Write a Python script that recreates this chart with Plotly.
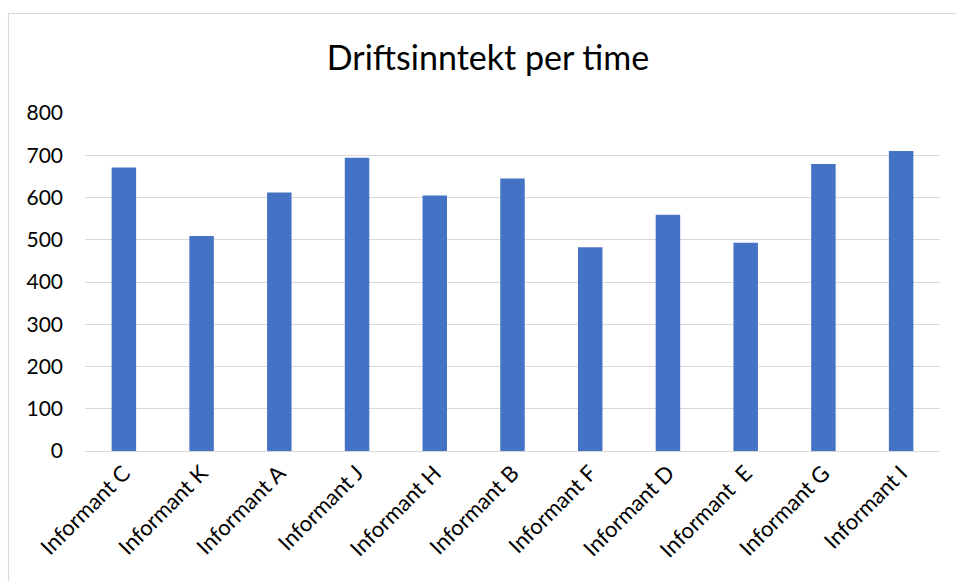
import plotly.graph_objects as go

# Operating income per hour for each informant
informants = ["Informant C", "Informant K", "Informant A", "Informant J", "Informant H",
              "Informant B", "Informant F", "Informant D", "Informant  E", "Informant G",
              "Informant I"]
income = [671, 509, 612, 694, 605, 645, 482, 559, 493, 679, 710]
y_ticks = [0, 100, 200, 300, 400, 500, 600, 700, 800]

W, H = 956, 581
ML, MR, MT, MB = 85, 16, 113, 130
pw, ph = W - ML - MR, H - MT - MB

fig = go.Figure(go.Bar(
    x=informants, y=income,
    marker=dict(color="#4472C4", line=dict(width=0)),
))

font = "Lato, 'Open Sans', sans-serif"

fig.update_layout(
    width=W, height=H,
    margin=dict(l=ML, r=MR, t=MT, b=MB),
    paper_bgcolor="white", plot_bgcolor="white",
    bargap=0.685,
    showlegend=False,
    font=dict(family=font, color="#000000", size=21),
    title=dict(text="Driftsinntekt per time", x=(488 - ML) / pw, xref="paper",
               xanchor="center", y=1 - 58 / H, yref="container", yanchor="middle",
               font=dict(size=34, color="#000000", family=font)),
    xaxis=dict(tickangle=-45, showgrid=False, showline=False, ticks="",
               tickfont=dict(size=22), ticklabelstandoff=4),
    yaxis=dict(range=[0, 800], tickvals=y_ticks, showgrid=True, gridcolor="#d9d9d9",
               gridwidth=1, zeroline=True, zerolinecolor="#d9d9d9", zerolinewidth=1,
               showline=False, ticks="", ticklabelstandoff=21,
               tickfont=dict(size=21)),
    shapes=[dict(type="rect", xref="paper", yref="paper",
                 x0=(8.5 - ML) / pw, x1=(W + 20 - ML) / pw,
                 y0=-(H + 20 - MT - ph) / ph, y1=(MT + ph - 13.5) / ph,
                 line=dict(color="#d9d9d9", width=1.2), layer="below")],
)

fig.write_html("out.html")
